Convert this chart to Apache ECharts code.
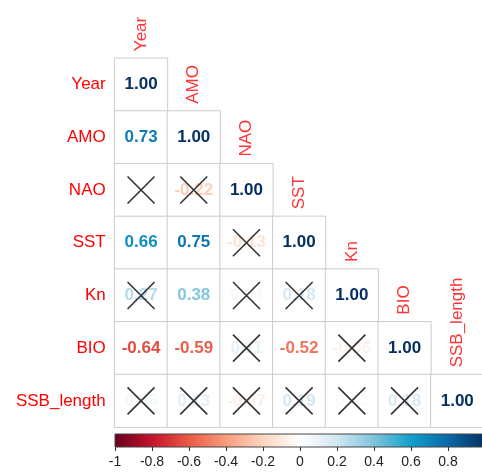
<!DOCTYPE html>
<html>
<head>
<meta charset="utf-8">
<script src="https://cdn.jsdelivr.net/npm/echarts@6/dist/echarts.min.js"></script>
<style>
html,body{margin:0;padding:0;background:#fff;}
#chart{width:482px;height:473px;}
</style>
</head>
<body>
<div id="chart"></div>
<script>
// ---- data ----
const vars = ['Year', 'AMO', 'NAO', 'SST', 'Kn', 'BIO', 'SSB_length'];
const corrRows = [
  [1.00],
  [0.73, 1.00],
  [-0.02, -0.22, 1.00],
  [0.66, 0.75, -0.13, 1.00],
  [0.27, 0.38, 0.04, 0.18, 1.00],
  [-0.64, -0.59, 0.11, -0.52, -0.06, 1.00],
  [0.06, 0.13, -0.07, 0.19, 0.03, 0.18, 1.00]
];
// [row, col] of non-significant cells
const insignificant = [[2,0],[2,1],[3,2],[4,0],[4,2],[4,3],[5,2],[5,4],[6,0],[6,1],[6,2],[6,3],[6,4],[6,5]];
const colorbarMin = -1, colorbarMax = 1, colorbarStep = 0.2;

// ---- colour scale ----
const colorStops = [
  [-1.0, '#67001F'], [-0.8, '#C4122C'], [-0.6, '#EA5A44'], [-0.4, '#F89C7C'],
  [-0.2, '#FDD4BF'], [0.0, '#FFFFFF'], [0.2, '#D2E7F1'], [0.4, '#7EC3DD'],
  [0.6, '#10A0CC'], [0.8, '#0A68A8'], [1.0, '#053061']
];
function hex2rgb(h){return [parseInt(h.substr(1,2),16),parseInt(h.substr(3,2),16),parseInt(h.substr(5,2),16)];}
function colorFor(v){
  for (let i=0;i<colorStops.length-1;i++){
    const [a,ca]=colorStops[i],[b,cb]=colorStops[i+1];
    if (v>=a && v<=b){
      const t=(v-a)/(b-a), x=hex2rgb(ca), y=hex2rgb(cb);
      const c=x.map((q,k)=>Math.round(q+(y[k]-q)*t));
      return 'rgb('+c.join(',')+')';
    }
  }
  return colorStops[colorStops.length-1][1];
}

const FONT = '"Liberation Sans", Arial, sans-serif';
const cellData = [];
corrRows.forEach((row, r) => row.forEach((v, c) => {
  cellData.push({value: [c, r, v], label: {color: colorFor(v)}});
}));
const crossData = insignificant.map(([r, c]) => [c, r]);
const diagData = vars.map((name, i) => ({value: [i, i], name: name}));

const gradient = new echarts.graphic.LinearGradient(0, 0, 1, 0,
  colorStops.map(([v, c]) => ({offset: (v - colorbarMin) / (colorbarMax - colorbarMin), color: c})));

const chart = echarts.init(document.getElementById('chart'), null, {renderer: 'canvas'});
chart.setOption({
  backgroundColor: '#ffffff',
  animation: false,
  textStyle: {fontFamily: FONT},
  visualMap: {show: false, seriesIndex: 0, dimension: 2, min: -1, max: 1, inRange: {color: ['#ffffff', '#ffffff']}},
  grid: [
    {left: 114.7, top: 58.3, width: 368.9, height: 368.9, outerBoundsMode: 'none', containLabel: false},
    {left: 115, top: 434, width: 370, height: 13, show: true, backgroundColor: gradient, borderColor: '#444', borderWidth: 1,
     outerBoundsMode: 'none', containLabel: false}
  ],
  xAxis: [
    {type: 'category', gridIndex: 0, data: vars, axisLine: {show: false}, axisTick: {show: false}, axisLabel: {show: false}, splitLine: {show: false}},
    {type: 'value', gridIndex: 1, min: colorbarMin, max: colorbarMax, interval: colorbarStep, position: 'bottom',
     axisLine: {show: false}, splitLine: {show: false},
     axisTick: {show: true, length: 4, lineStyle: {color: '#333', width: 1}},
     axisLabel: {margin: 8, fontSize: 14, color: '#222', fontFamily: FONT,
       formatter: v => String(Math.round(v * 10) / 10)}}
  ],
  yAxis: [
    {type: 'category', gridIndex: 0, data: vars, inverse: true, axisLine: {show: false}, axisTick: {show: false}, splitLine: {show: false},
     axisLabel: {color: '#FF0000', fontSize: 17, margin: 9, fontFamily: FONT}},
    {type: 'value', gridIndex: 1, show: false, min: 0, max: 1}
  ],
  series: [
    {
      type: 'heatmap', xAxisIndex: 0, yAxisIndex: 0, data: cellData,
      itemStyle: {borderColor: '#cccccc', borderWidth: 1},
      label: {show: true, fontSize: 17, fontWeight: 'bold', fontFamily: FONT,
        formatter: p => p.value[2].toFixed(2)},
      emphasis: {disabled: true}
    },
    {
      type: 'scatter', xAxisIndex: 0, yAxisIndex: 0, z: 5, data: crossData,
      symbol: 'path://M0,0L10,10M10,0L0,10', symbolSize: 27,
      itemStyle: {color: 'rgba(0,0,0,0)', borderColor: '#000', borderWidth: 1.6},
      silent: true
    },
    {
      type: 'scatter', xAxisIndex: 0, yAxisIndex: 0, z: 5, data: diagData,
      symbolSize: 1, itemStyle: {color: 'rgba(0,0,0,0)'}, silent: true,
      label: {show: true, position: 'top', distance: 33, rotate: 90, align: 'left', verticalAlign: 'middle',
        formatter: '{b}', color: '#FF0000', fontSize: 17, fontFamily: FONT}
    },
    {type: 'line', xAxisIndex: 1, yAxisIndex: 1, data: [], silent: true}
  ]
});
</script>
</body>
</html>
